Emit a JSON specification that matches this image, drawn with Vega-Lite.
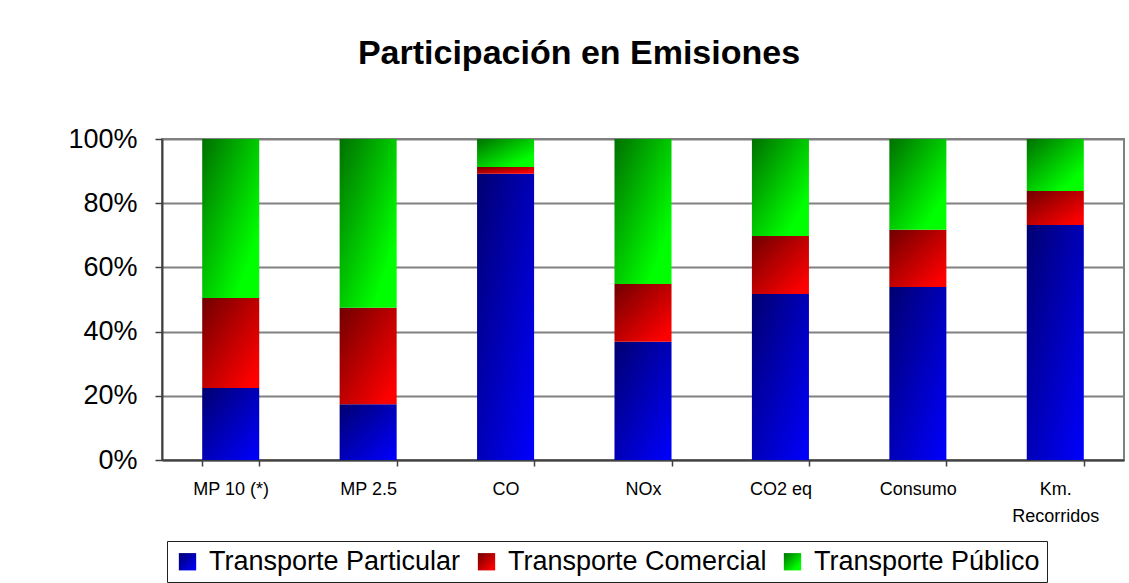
{
  "$schema": "https://vega.github.io/schema/vega-lite/v6.json",
  "width": 962,
  "height": 321,
  "autosize": {"type": "none"},
  "padding": {"left": 162, "top": 139, "right": 5, "bottom": 123},
  "background": "white",
  "config": {
    "font": "Liberation Sans",
    "view": {"stroke": "#808080", "strokeWidth": 2}
  },
  "title": {
    "text": "Participación en Emisiones",
    "font": "Liberation Sans",
    "fontSize": 34,
    "fontWeight": "bold",
    "color": "black",
    "anchor": "middle",
    "frame": "group",
    "dx": -64,
    "baseline": "alphabetic",
    "offset": 27
  },
  "data": {
    "values": [
      {"categoria": "MP 10 (*)", "serie": "Transporte Particular", "orden": 1, "valor": 22.4},
      {"categoria": "MP 10 (*)", "serie": "Transporte Comercial", "orden": 2, "valor": 28.1},
      {"categoria": "MP 10 (*)", "serie": "Transporte Público", "orden": 3, "valor": 49.5},
      {"categoria": "MP 2.5", "serie": "Transporte Particular", "orden": 1, "valor": 17.4},
      {"categoria": "MP 2.5", "serie": "Transporte Comercial", "orden": 2, "valor": 30.0},
      {"categoria": "MP 2.5", "serie": "Transporte Público", "orden": 3, "valor": 52.6},
      {"categoria": "CO", "serie": "Transporte Particular", "orden": 1, "valor": 89.2},
      {"categoria": "CO", "serie": "Transporte Comercial", "orden": 2, "valor": 2.1},
      {"categoria": "CO", "serie": "Transporte Público", "orden": 3, "valor": 8.7},
      {"categoria": "NOx", "serie": "Transporte Particular", "orden": 1, "valor": 36.8},
      {"categoria": "NOx", "serie": "Transporte Comercial", "orden": 2, "valor": 18.0},
      {"categoria": "NOx", "serie": "Transporte Público", "orden": 3, "valor": 45.2},
      {"categoria": "CO2 eq", "serie": "Transporte Particular", "orden": 1, "valor": 51.7},
      {"categoria": "CO2 eq", "serie": "Transporte Comercial", "orden": 2, "valor": 18.1},
      {"categoria": "CO2 eq", "serie": "Transporte Público", "orden": 3, "valor": 30.2},
      {"categoria": "Consumo", "serie": "Transporte Particular", "orden": 1, "valor": 53.9},
      {"categoria": "Consumo", "serie": "Transporte Comercial", "orden": 2, "valor": 17.8},
      {"categoria": "Consumo", "serie": "Transporte Público", "orden": 3, "valor": 28.3},
      {"categoria": "Km. Recorridos", "serie": "Transporte Particular", "orden": 1, "valor": 73.2},
      {"categoria": "Km. Recorridos", "serie": "Transporte Comercial", "orden": 2, "valor": 10.6},
      {"categoria": "Km. Recorridos", "serie": "Transporte Público", "orden": 3, "valor": 16.2}
    ]
  },
  "mark": {
    "type": "bar",
    "strokeWidth": 0,
    "fill": {"expr": "(datum.serie || datum.value) == 'Transporte Particular' ? {gradient: 'linear', x1: 0, y1: 0, x2: 1, y2: 1, stops: [{offset: 0, color: '#000070'}, {offset: 1, color: '#0000ff'}]} : (datum.serie || datum.value) == 'Transporte Comercial' ? {gradient: 'linear', x1: 0, y1: 0, x2: 1, y2: 1, stops: [{offset: 0, color: '#700000'}, {offset: 0.9, color: '#ff0000'}]} : {gradient: 'linear', x1: 0, y1: 0, x2: 1, y2: 1, stops: [{offset: 0, color: '#007000'}, {offset: 0.8, color: '#00ff00'}]}"}
  },
  "encoding": {
    "x": {
      "field": "categoria",
      "type": "nominal",
      "sort": null,
      "scale": {"paddingInner": 0.585, "paddingOuter": 0.2925},
      "axis": {
        "title": null,
        "labelAngle": 0,
        "labelFont": "Liberation Sans",
        "labelFontSize": 18,
        "labelColor": "black",
        "labelLineHeight": 27,
        "labelExpr": "datum.label == 'Km. Recorridos' ? ['Km.', 'Recorridos'] : datum.label",
        "tickBand": "extent",
        "tickSize": 6,
        "tickColor": "#404040",
        "tickWidth": 1.5,
        "labelPadding": 14,
        "domainColor": "#404040",
        "domainWidth": 2,
        "grid": false
      }
    },
    "y": {
      "field": "valor",
      "type": "quantitative",
      "stack": "normalize",
      "scale": {"domain": [0, 1]},
      "axis": {
        "title": null,
        "values": [0, 0.2, 0.4, 0.6, 0.8, 1],
        "format": ".0%",
        "labelFont": "Liberation Sans",
        "labelFontSize": 27,
        "labelColor": "black",
        "tickSize": 7,
        "tickColor": "#404040",
        "tickWidth": 1.5,
        "labelPadding": 18,
        "domainColor": "#404040",
        "domainWidth": 2,
        "grid": true,
        "gridColor": "#808080",
        "gridWidth": 2,
        "gridOpacity": 1
      }
    },
    "stroke": {
      "field": "serie",
      "type": "nominal",
      "scale": {
        "domain": ["Transporte Particular", "Transporte Comercial", "Transporte Público"],
        "range": ["#0000c0", "#c00000", "#00c000"]
      },
      "legend": {
        "title": null,
        "orient": "none",
        "legendX": 5,
        "legendY": 402,
        "direction": "horizontal",
        "columns": 3,
        "symbolType": "square",
        "symbolSize": 300,
        "symbolStrokeWidth": 0,
        "symbolOpacity": 1,
        "labelFont": "Liberation Sans",
        "labelFontSize": 27,
        "labelColor": "black",
        "labelOffset": 8,
        "labelLimit": 400,
        "columnPadding": 12,
        "padding": 7,
        "fillColor": "white",
        "strokeColor": "#202020",
        "encode": {
          "legend": {"update": {"strokeWidth": {"value": 1.5}}}
        }
      }
    },
    "order": {"field": "orden", "type": "quantitative"}
  }
}
